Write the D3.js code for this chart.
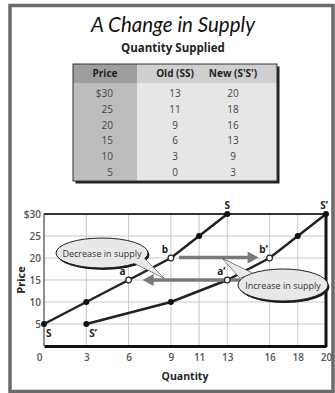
<!DOCTYPE html>
<html><head><meta charset="utf-8">
<script src="https://cdn.jsdelivr.net/npm/d3@7"></script>
<style>
html,body{margin:0;padding:0;background:#fff;}
svg{display:block;font-family:"Open Sans",sans-serif;}
</style></head>
<body>
<svg id="c" width="335" height="393"></svg>
<script>
// ---- data ----
const title = "A Change in Supply";
const tableTitle = "Quantity Supplied";
const headers = ["Price", "Old (SS)", "New (S'S')"];
const prices = [30, 25, 20, 15, 10, 5];
const oldQty = [13, 11, 9, 6, 3, 0];
const newQty = [20, 18, 16, 13, 9, 3];
const xTicks = [0, 3, 6, 9, 11, 13, 16, 18, 20];
const yTicks = [5, 10, 15, 20, 25, 30];
const pointNames = [
  {name: "a", q: 6, p: 15}, {name: "b", q: 9, p: 20},
  {name: "a\u2019", q: 13, p: 15}, {name: "b\u2019", q: 16, p: 20}
];
const bubbleTexts = ["Decrease in supply", "Increase in supply"];

const svg = d3.select("#c");

// frame
svg.append("rect").attr("x", 10).attr("y", 5.5).attr("width", 323).attr("height", 386)
  .attr("fill", "#fff").attr("stroke", "#6a6a6a").attr("stroke-width", 3.5);

// title
svg.append("text").attr("x", 173).attr("y", 32).attr("text-anchor", "middle")
  .attr("font-family", "Lato, sans-serif").attr("font-style", "italic").attr("font-size", 20.5)
  .attr("fill", "#111").text(title);
svg.append("text").attr("x", 173).attr("y", 52).attr("text-anchor", "middle")
  .attr("font-weight", 700).attr("font-size", 11.5).attr("fill", "#222").text(tableTitle);

// ---- table ----
const tx0 = 73, tx1 = 137, tx2 = 277, ty0 = 64, ty1 = 83, ty2 = 181;
const tbl = svg.append("g");
tbl.append("rect").attr("x", tx0 + 2.5).attr("y", ty0 + 2.5).attr("width", tx2 - tx0).attr("height", ty2 - ty0).attr("fill", "#222");
tbl.append("rect").attr("x", tx0).attr("y", ty0).attr("width", tx1 - tx0).attr("height", ty1 - ty0).attr("fill", "#9e9e9e");
tbl.append("rect").attr("x", tx1).attr("y", ty0).attr("width", tx2 - tx1).attr("height", ty1 - ty0).attr("fill", "#cfcfcf");
tbl.append("rect").attr("x", tx0).attr("y", ty1).attr("width", tx1 - tx0).attr("height", ty2 - ty1).attr("fill", "#bdbdbd");
tbl.append("rect").attr("x", tx1).attr("y", ty1).attr("width", tx2 - tx1).attr("height", ty2 - ty1).attr("fill", "#e6e6e6");
tbl.append("rect").attr("x", tx0).attr("y", ty0).attr("width", tx2 - tx0).attr("height", ty2 - ty0)
  .attr("fill", "none").attr("stroke", "#333").attr("stroke-width", 1);
const colX = [105, 175, 233];
headers.forEach((h, i) => {
  tbl.append("text").attr("x", colX[i]).attr("y", 77).attr("text-anchor", "middle")
    .attr("font-weight", 700).attr("font-size", 10).attr("fill", "#222").text(h);
});
const rowY = d3.scaleBand().domain(d3.range(prices.length)).range([86, 180]);
prices.forEach((p, i) => {
  const yy = rowY(i) + rowY.bandwidth() / 2 + 3.5;
  tbl.append("text").attr("x", 113).attr("y", yy).attr("text-anchor", "end")
    .attr("font-size", 10).attr("fill", "#444").text(i === 0 ? "$" + p : p);
  tbl.append("text").attr("x", colX[1]).attr("y", yy).attr("text-anchor", "middle")
    .attr("font-size", 10).attr("fill", "#444").text(oldQty[i]);
  tbl.append("text").attr("x", colX[2]).attr("y", yy).attr("text-anchor", "middle")
    .attr("font-size", 10).attr("fill", "#444").text(newQty[i]);
});

// ---- chart ----
const x = d3.scaleLinear().domain([0, 20]).range([44, 326]);
const y = d3.scaleLinear().domain([0, 30]).range([346, 214]);

// grid
svg.append("g").selectAll("line").data(xTicks.filter(d => d > 0 && d < 20)).join("line")
  .attr("x1", d => x(d)).attr("x2", d => x(d)).attr("y1", y(0)).attr("y2", y(30))
  .attr("stroke", "#c8c8c8").attr("stroke-width", 1);
svg.append("g").selectAll("line").data(yTicks.filter(d => d < 30)).join("line")
  .attr("x1", x(0)).attr("x2", x(20)).attr("y1", d => y(d)).attr("y2", d => y(d))
  .attr("stroke", "#c8c8c8").attr("stroke-width", 1);

// borders
svg.append("line").attr("x1", x(0)).attr("x2", x(20)).attr("y1", y(30)).attr("y2", y(30)).attr("stroke", "#333").attr("stroke-width", 1.8);
svg.append("line").attr("x1", x(0)).attr("x2", x(0)).attr("y1", y(30)).attr("y2", y(0)).attr("stroke", "#444").attr("stroke-width", 1.2);
svg.append("line").attr("x1", x(20)).attr("x2", x(20)).attr("y1", y(30) - 1).attr("y2", y(0) + 1).attr("stroke", "#111").attr("stroke-width", 3);

// axes
const xAxis = svg.append("g").attr("transform", `translate(0,${y(0)})`)
  .call(d3.axisBottom(x).tickValues(xTicks).tickSize(0).tickPadding(8));
xAxis.select(".domain").attr("stroke", "#111").attr("stroke-width", 3);
xAxis.selectAll("text").attr("font-family", "Open Sans, sans-serif").attr("font-weight", 600)
  .attr("font-size", 10).attr("fill", "#555")
  .attr("dx", d => d === 0 ? -5 : 0);
const yAxis = svg.append("g").attr("transform", `translate(${x(0)},0)`)
  .call(d3.axisLeft(y).tickValues(yTicks).tickSize(0).tickPadding(3)
    .tickFormat(d => d === 30 ? "$" + d : d));
yAxis.select(".domain").remove();
yAxis.selectAll("text").attr("font-family", "Open Sans, sans-serif").attr("font-weight", 600)
  .attr("font-size", 10).attr("fill", "#555");

svg.append("text").attr("transform", `translate(25,${y(15)}) rotate(-90)`).attr("text-anchor", "middle")
  .attr("font-weight", 700).attr("font-size", 11).attr("fill", "#222").text("Price");
svg.append("text").attr("x", x(10)).attr("y", 380).attr("text-anchor", "middle")
  .attr("font-weight", 700).attr("font-size", 10.5).attr("fill", "#222").text("Quantity");

// supply lines
const line = d3.line().x(d => x(d[0])).y(d => y(d[1]));
const sOld = oldQty.map((q, i) => [q, prices[i]]);
const sNew = newQty.map((q, i) => [q, prices[i]]);
[sOld, sNew].forEach(s => {
  svg.append("path").attr("d", line(s)).attr("fill", "none").attr("stroke", "#222").attr("stroke-width", 2.5);
});

// arrows
const arrowCol = "#7a7a7a";
function arrow(x1, x2, yy) {
  const dir = Math.sign(x2 - x1);
  svg.append("line").attr("x1", x1).attr("x2", x2 - dir * 9).attr("y1", yy).attr("y2", yy)
    .attr("stroke", arrowCol).attr("stroke-width", 3.5);
  svg.append("path").attr("d", `M${x2},${yy} L${x2 - dir * 11},${yy - 6} L${x2 - dir * 11},${yy + 6} Z`)
    .attr("fill", arrowCol);
}
arrow(x(9) + 8, x(16) - 11, y(20) - 0.5);
arrow(x(13) + 13, x(6) + 14, y(15));

// points
const openSet = new Set(pointNames.map(d => d.q + "_" + d.p));
[...sOld, ...sNew].forEach(d => {
  const isOpen = openSet.has(d[0] + "_" + d[1]);
  svg.append("circle").attr("cx", x(d[0])).attr("cy", y(d[1])).attr("r", isOpen ? 2.8 : 3)
    .attr("fill", isOpen ? "#fff" : "#111").attr("stroke", "#222").attr("stroke-width", isOpen ? 1.2 : 0);
});

// point labels
pointNames.forEach(d => {
  svg.append("text").attr("x", x(d.q) - 6).attr("y", y(d.p) - 5).attr("text-anchor", "middle")
    .attr("font-weight", 700).attr("font-size", 10).attr("fill", "#222").text(d.name);
});
// curve labels
const lbl = (t, xx, yy, anchor) => svg.append("text").attr("x", xx).attr("y", yy).attr("text-anchor", anchor)
  .attr("font-weight", 700).attr("font-size", 10).attr("fill", "#222").text(t);
lbl("S", x(oldQty[5]) + 2, y(prices[5]) + 13, "start");
lbl("S\u2019", x(newQty[5]) + 3, y(prices[5]) + 13, "start");
lbl("S", x(oldQty[0]), y(prices[0]) - 5, "middle");
lbl("S\u2019", x(newQty[0]) - 2, y(prices[0]) - 5, "middle");

// speech bubbles
function bubble(cx, cy, rx, ry, tail, text) {
  const g = svg.append("g");
  g.append("ellipse").attr("cx", cx + 1.5).attr("cy", cy + 2).attr("rx", rx).attr("ry", ry).attr("fill", "#1a1a1a");
  g.append("path").attr("d", "M" + tail.map(p => p.join(",")).join("L") + "Z")
    .attr("fill", "#e8e8e8").attr("stroke", "#222").attr("stroke-width", 1);
  g.append("ellipse").attr("cx", cx).attr("cy", cy).attr("rx", rx).attr("ry", ry)
    .attr("fill", "#e8e8e8").attr("stroke", "#222").attr("stroke-width", 1);
  const inner = [tail[0], tail[1], tail[2]];
  g.append("path").attr("d", `M${inner[0][0]},${inner[0][1]}L${inner[1][0]},${inner[1][1]}L${inner[2][0]},${inner[2][1]}Z`)
    .attr("fill", "#e8e8e8");
  g.append("text").attr("x", cx).attr("y", cy + 3.5).attr("text-anchor", "middle")
    .attr("font-size", 9).attr("fill", "#333").text(text);
}
bubble(102, 253, 46, 15, [[132, 262], [164, 278], [143, 257]], bubbleTexts[0]);
bubble(283, 285, 45, 16, [[252, 273], [223, 259], [240, 278]], bubbleTexts[1]);
</script>
</body></html>
